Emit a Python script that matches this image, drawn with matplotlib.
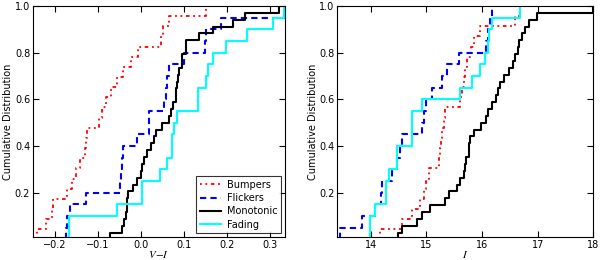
import numpy as np
import matplotlib
matplotlib.use('Agg')
import matplotlib.pyplot as plt

plt.rcParams['mathtext.fontset'] = 'stix'
plt.rcParams['font.size'] = 7

# V-I colours, sorted, one value per object
bump_vi = [-0.240, -0.219, -0.205, -0.203, -0.170, -0.160, -0.151, -0.140, -0.130, -0.126,
           -0.124, -0.097, -0.090, -0.080, -0.070, -0.056, -0.040, -0.023, -0.006, 0.048,
           0.052, 0.065, 0.151]
flick_vi = [-0.174, -0.170, -0.164, -0.128, -0.047, -0.045, -0.043, -0.040, -0.008, 0.019,
            0.020, 0.054, 0.058, 0.062, 0.066, 0.100, 0.150, 0.152, 0.186, 0.400]
mono_vi = [-0.071, -0.043, -0.039, -0.033, -0.032, -0.031, -0.030, -0.019, -0.009, 0.000,
           0.004, 0.008, 0.014, 0.023, 0.030, 0.035, 0.050, 0.066, 0.070, 0.074,
           0.081, 0.083, 0.085, 0.087, 0.088, 0.095, 0.097, 0.105, 0.106, 0.136,
           0.168, 0.215, 0.243, 0.322]
fade_vi = [-0.167, -0.167, -0.054, 0.002, 0.002, 0.044, 0.060, 0.072, 0.072, 0.077,
           0.085, 0.132, 0.132, 0.151, 0.157, 0.167, 0.199, 0.246, 0.306, 0.333]

# I magnitudes
bump_i = [14.17, 14.56, 14.74, 14.89, 14.95, 15.00, 15.04, 15.22, 15.24, 15.26,
          15.28, 15.32, 15.34, 15.61, 15.64, 15.67, 15.70, 15.73, 15.80, 15.85,
          15.97, 16.60, 16.68]
flick_i = [13.45, 13.84, 14.08, 14.18, 14.20, 14.38, 14.47, 14.53, 14.56, 14.92,
           14.96, 15.00, 15.10, 15.28, 15.37, 15.58, 16.07, 16.10, 16.14, 16.18]
mono_i = [14.50, 14.56, 14.83, 14.92, 15.07, 15.34, 15.40, 15.55, 15.61, 15.67,
          15.70, 15.72, 15.76, 15.77, 15.78, 15.85, 15.99, 16.08, 16.11, 16.18,
          16.25, 16.29, 16.33, 16.40, 16.48, 16.55, 16.60, 16.64, 16.66, 16.72,
          16.78, 16.84, 16.99, 18.00]
fade_i = [13.99, 13.99, 14.08, 14.28, 14.28, 14.33, 14.47, 14.47, 14.74, 14.74,
          14.74, 14.93, 15.61, 15.82, 15.97, 16.06, 16.10, 16.12, 16.18, 16.68]

names = ['Bumpers', 'Flickers', 'Monotonic', 'Fading']
styles = [dict(color='red', ls='-.', lw=1.3, dashes=(1, 2, 1, 2, 2, 2)),
          dict(color='blue', ls='--', lw=1.5, dashes=(3, 2)),
          dict(color='black', ls='-', lw=1.5),
          dict(color='cyan', ls='-', lw=1.5)]


def cdf(ax, vals, label, st):
    x = np.sort(np.array(vals))
    y = np.arange(1, len(x) + 1) / float(len(x))
    x = np.r_[x[0], x]
    y = np.r_[0, y]
    ax.plot(x, y, drawstyle='steps-post', label=label, **st)


fig = plt.figure(figsize=(6, 2.6), dpi=100)
ax1 = fig.add_axes([0.055, 0.088, 0.42, 0.889])
ax2 = fig.add_axes([0.562, 0.088, 0.427, 0.889])

for vals, nm, st in zip([bump_vi, flick_vi, mono_vi, fade_vi], names, styles):
    cdf(ax1, vals, nm, st)
for vals, nm, st in zip([bump_i, flick_i, mono_i, fade_i], names, styles):
    cdf(ax2, vals, nm, st)

ax1.set_xlim(-0.25, 0.335)
ax2.set_xlim(13.4, 18)
ax1.set_xticks([-0.2, -0.1, 0.0, 0.1, 0.2, 0.3])
ax1.set_xticklabels(['\u22120.2', '\u22120.1', '0.0', '0.1', '0.2', '0.3'])
ax2.set_xticks([14, 15, 16, 17, 18])
for ax in (ax1, ax2):
    ax.set_ylim(0.01, 1.0)
    ax.set_yticks([0.2, 0.4, 0.6, 0.8, 1.0])
    ax.tick_params(direction='in', top=True, right=True, length=4, labelsize=7, pad=2)
    ax.set_ylabel('Cumulative Distribution', fontsize=7, labelpad=1)
    for sp in ax.spines.values():
        sp.set_linewidth(0.8)
ax1.set_xlabel(r'$V\!-\!I$', fontsize=8, labelpad=-1)
ax2.set_xlabel(r'$I$', fontsize=8, labelpad=-1)

leg = ax1.legend(loc='lower right', fontsize=7, handlelength=2.2, fancybox=False,
                 borderpad=0.35, labelspacing=0.35, handletextpad=0.6,
                 borderaxespad=0.4)
leg.get_frame().set_edgecolor('black')
leg.get_frame().set_linewidth(0.8)

fig.savefig('out.png', dpi=100)
